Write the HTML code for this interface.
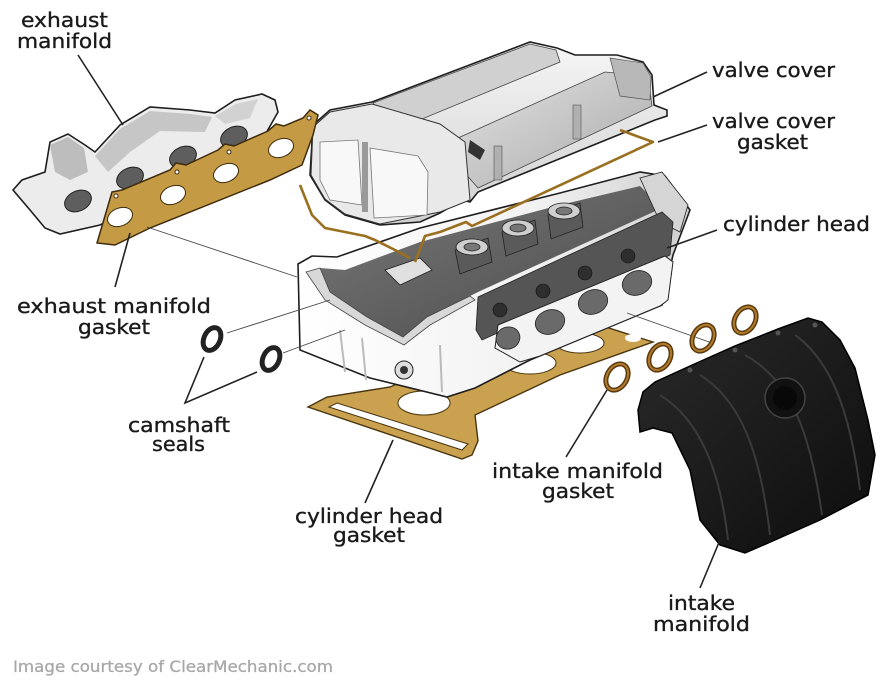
<!DOCTYPE html>
<html><head><meta charset="utf-8"><style>
html,body{margin:0;padding:0;background:#fff;}
svg{display:block;}
text{font-family:"DejaVu Sans","Liberation Sans",sans-serif;font-size:20px;fill:#1a1a1a;stroke:#1a1a1a;stroke-width:0.35px;}
</style></head><body>
<svg width="880" height="681" viewBox="0 0 880 681" xmlns="http://www.w3.org/2000/svg">
<defs>
<linearGradient id="metal" x1="0" y1="0" x2="0" y2="1"><stop offset="0" stop-color="#f6f6f6"/><stop offset="1" stop-color="#cfcfcf"/></linearGradient>
<linearGradient id="metal2" x1="0" y1="0" x2="1" y2="1"><stop offset="0" stop-color="#e2e2e2"/><stop offset="1" stop-color="#a9a9a9"/></linearGradient>
<linearGradient id="front" x1="0" y1="0" x2="1" y2="0"><stop offset="0" stop-color="#ffffff"/><stop offset="0.6" stop-color="#f2f2f2"/><stop offset="1" stop-color="#cfcfcf"/></linearGradient>
<linearGradient id="dark" x1="0" y1="0" x2="1" y2="1"><stop offset="0" stop-color="#7a7a7a"/><stop offset="1" stop-color="#4a4a4a"/></linearGradient>
<linearGradient id="blk" x1="0" y1="0" x2="1" y2="1"><stop offset="0" stop-color="#2a2a2a"/><stop offset="1" stop-color="#0d0d0d"/></linearGradient>
</defs>

<!-- exhaust manifold -->
<path d="M13,190 L22,180 L45,172 L50,142 L68,134 L85,145 L95,152 L120,125 L150,107 L190,110 L215,113 L235,100 L262,94 L275,100 L278,112 L265,135 L150,200 L100,225 L60,234 L45,228 L30,210 Z" fill="#ececec" stroke="#1e1e1e" stroke-width="1.6"/>
<path d="M50,145 L68,137 L84,148 L88,172 L70,180 L55,172 Z" fill="#bdbdbd"/>
<path d="M95,156 L120,129 L150,111 L190,114 L212,117 L205,132 L160,131 L130,152 L108,172 Z" fill="#c6c6c6"/>
<path d="M215,116 L236,104 L258,99 L250,118 L225,124 Z" fill="#d2d2d2"/>
<g fill="#5e5e5e" stroke="#222" stroke-width="1">
<ellipse cx="78" cy="201" rx="14" ry="10" transform="rotate(-25 78 201)"/>
<ellipse cx="130" cy="178" rx="14" ry="10" transform="rotate(-25 130 178)"/>
<ellipse cx="183" cy="157" rx="14" ry="10" transform="rotate(-25 183 157)"/>
<ellipse cx="234" cy="137" rx="14" ry="10" transform="rotate(-25 234 137)"/>
</g>

<!-- valve cover -->
<path d="M313,125 L330,110 L372,102 L530,42 L557,48 L575,55 L617,55 L643,62 L652,75 L654,105 L667,110 L667,116 L655,120 L478,192 L470,202 L462,200 L440,213 L420,222 L380,225 L345,215 L325,200 L310,175 Z" fill="url(#metal)" stroke="#1e1e1e" stroke-width="1.6"/>
<path d="M373,103 L530,44 L556,50 L560,62 L405,126 L382,118 Z" fill="#d0d0d0" stroke="#444" stroke-width="0.8"/>
<path d="M458,138 L605,72 L648,76 L652,106 L478,188 L464,172 Z" fill="url(#metal2)" stroke="#444" stroke-width="0.8"/>
<path d="M610,58 L643,63 L651,77 L650,100 L620,96 Z" fill="#b8b8b8" stroke="#555" stroke-width="0.7"/>
<path d="M313,127 L330,112 L372,104 L440,124 L465,142 L470,200 L440,212 L380,224 L345,214 L325,199 L311,175 Z" fill="#e9e9e9" stroke="#333" stroke-width="1"/>
<path d="M320,142 L358,140 L362,205 L330,200 L320,180 Z" fill="#f8f8f8" stroke="#777" stroke-width="0.8"/>
<path d="M370,148 L418,156 L428,172 L427,215 L374,218 Z" fill="#f8f8f8" stroke="#777" stroke-width="0.8"/>
<rect x="362" y="142" width="6" height="70" fill="#9a9a9a"/>
<path d="M470,140 L485,150 L480,160 L468,152 Z" fill="#333"/>
<rect x="494" y="146" width="8" height="34" fill="#b0b0b0" stroke="#555" stroke-width="0.6"/>
<rect x="573" y="105" width="8" height="34" fill="#b0b0b0" stroke="#555" stroke-width="0.6"/>

<!-- head gasket -->
<path d="M308,407 L327,397 L390,387 L440,365 L593,323 L653,342 L560,375 L475,415 L478,441 L472,455 L462,459 Z" fill="#c9a14f" stroke="#4a3510" stroke-width="1.4"/>
<path d="M329,407 L337,403 L468,444 L462,450 Z" fill="#fff" stroke="#4a3510" stroke-width="1"/>
<ellipse cx="424" cy="403" rx="26" ry="12" fill="#fff" stroke="#4a3510" stroke-width="1"/>
<ellipse cx="530" cy="363" rx="26" ry="11" fill="#fff" stroke="#4a3510" stroke-width="1"/>
<ellipse cx="580" cy="343" rx="24" ry="10" fill="#fff" stroke="#4a3510" stroke-width="1"/>
<ellipse cx="633" cy="338" rx="8" ry="4" fill="#fff"/>

<!-- cylinder head -->
<path d="M298,264 L312,256 L337,257 L420,228 L560,193 L640,172 L665,176 L690,210 L673,255 L662,305 L530,360 L475,388 L447,397 L370,378 L300,350 Z" fill="url(#front)" stroke="#1e1e1e" stroke-width="1.6"/>
<path d="M340,330 L345,372 M362,338 L366,380 M440,345 L442,392" stroke="#bbb" stroke-width="2" fill="none"/>
<path d="M306,272 L320,268 L345,270 L420,242 L560,205 L640,186 L662,208 L478,292 L470,296 L427,317 L403,337 L367,317 L330,292 Z" fill="url(#dark)"/>
<path d="M306,272 L320,268 L330,292 L367,317 L403,337 L427,317 L470,296 L475,300 L430,325 L404,345 L365,325 L325,300 Z" fill="#d8d8d8" stroke="#444" stroke-width="0.8"/>
<!-- cam towers -->
<g stroke="#222" stroke-width="0.8">
<path d="M455,250 L488,238 L492,262 L460,274 Z" fill="#5a5a5a"/>
<ellipse cx="472" cy="247" rx="16" ry="8" fill="#cfcfcf"/>
<ellipse cx="472" cy="247" rx="8" ry="4" fill="#777"/>
<path d="M502,232 L535,220 L538,244 L506,256 Z" fill="#5a5a5a"/>
<ellipse cx="518" cy="228" rx="16" ry="8" fill="#cfcfcf"/>
<ellipse cx="518" cy="228" rx="8" ry="4" fill="#777"/>
<path d="M548,215 L580,203 L583,227 L551,239 Z" fill="#5a5a5a"/>
<ellipse cx="564" cy="211" rx="16" ry="8" fill="#cfcfcf"/>
<ellipse cx="564" cy="211" rx="8" ry="4" fill="#777"/>
<path d="M385,270 L420,258 L432,270 L400,285 Z" fill="#e0e0e0"/>
<path d="M640,178 L662,172 L688,205 L680,232 L660,222 Z" fill="#d5d5d5"/>
</g>
<!-- side dark band -->
<path d="M478,297 L662,212 L673,222 L670,255 L482,340 L476,330 Z" fill="#555" stroke="#222" stroke-width="0.8"/>
<g fill="#2e2e2e" stroke="#111" stroke-width="0.6">
<circle cx="500" cy="310" r="7"/><circle cx="543" cy="291" r="7"/><circle cx="585" cy="273" r="7"/><circle cx="628" cy="256" r="7"/>
</g>
<!-- intake flange -->
<path d="M498,325 L665,256 L673,262 L668,300 L660,306 L540,356 L520,362 L495,348 Z" fill="#f3f3f3" stroke="#222" stroke-width="1"/>
<g fill="#6a6a6a" stroke="#222" stroke-width="0.8">
<ellipse cx="550" cy="322" rx="15" ry="12" transform="rotate(-20 550 322)"/>
<ellipse cx="593" cy="302" rx="15" ry="12" transform="rotate(-20 593 302)"/>
<ellipse cx="637" cy="283" rx="15" ry="12" transform="rotate(-20 637 283)"/>
<ellipse cx="508" cy="338" rx="12" ry="11" transform="rotate(-20 508 338)"/>
</g>
<circle cx="404" cy="370" r="9" fill="#ddd" stroke="#222" stroke-width="1"/>
<circle cx="404" cy="370" r="4" fill="#333"/>

<!-- valve cover gasket -->
<g fill="none" stroke="#9a7020" stroke-width="2.6" stroke-linejoin="round">
<path d="M300,185 L312,215 L325,228 L365,236 L375,240 L395,250 L410,258"/>
<path d="M620,130 L653,142 L472,226 L466,222 L440,232 L425,236 L415,262"/>
</g>

<!-- exhaust gasket -->
<path d="M97,243 L112,192 L122,190 L170,170 L176,163 L186,165 L218,150 L225,144 L234,146 L268,131 L276,124 L284,126 L303,118 L310,110 L318,115 L313,135 L302,165 L270,180 L150,228 L115,245 Z" fill="#c49a45" stroke="#3e2c0c" stroke-width="1.5"/>
<g fill="#fff" stroke="#3e2c0c" stroke-width="1">
<ellipse cx="120" cy="217" rx="13" ry="9" transform="rotate(-22 120 217)"/>
<ellipse cx="173" cy="195" rx="13" ry="9" transform="rotate(-22 173 195)"/>
<ellipse cx="226" cy="173" rx="13" ry="9" transform="rotate(-22 226 173)"/>
<ellipse cx="281" cy="148" rx="13" ry="9" transform="rotate(-22 281 148)"/>
<circle cx="116" cy="196" r="2"/><circle cx="177" cy="172" r="2"/><circle cx="229" cy="152" r="2"/><circle cx="309" cy="118" r="2"/>
</g>

<!-- thin connector lines -->
<g stroke="#444" stroke-width="0.9" fill="none">
<line x1="147" y1="227" x2="297" y2="277"/>
<line x1="227" y1="333" x2="330" y2="300"/>
<line x1="283" y1="353" x2="345" y2="330"/>
<line x1="627" y1="313" x2="712" y2="343"/>
</g>

<!-- camshaft seals -->
<g fill="none" stroke="#222" stroke-width="5">
<ellipse cx="212" cy="339" rx="8" ry="12" transform="rotate(25 212 339)"/>
<ellipse cx="271" cy="359" rx="8" ry="12" transform="rotate(25 271 359)"/>
</g>

<!-- intake gasket rings -->
<g fill="none">
<g stroke="#5a3a10" stroke-width="5">
<ellipse cx="617" cy="377" rx="10" ry="14" transform="rotate(30 617 377)"/>
<ellipse cx="660" cy="357" rx="10" ry="14" transform="rotate(30 660 357)"/>
<ellipse cx="703" cy="338" rx="10" ry="14" transform="rotate(30 703 338)"/>
<ellipse cx="745" cy="320" rx="10" ry="14" transform="rotate(30 745 320)"/>
</g>
<g stroke="#b07a2a" stroke-width="2">
<ellipse cx="617" cy="377" rx="10" ry="14" transform="rotate(30 617 377)"/>
<ellipse cx="660" cy="357" rx="10" ry="14" transform="rotate(30 660 357)"/>
<ellipse cx="703" cy="338" rx="10" ry="14" transform="rotate(30 703 338)"/>
<ellipse cx="745" cy="320" rx="10" ry="14" transform="rotate(30 745 320)"/>
</g>
</g>

<!-- intake manifold -->
<path d="M643,392 L655,382 L690,366 L735,346 L778,329 L808,318 L822,322 L840,340 L855,368 L868,420 L875,455 L868,495 L820,520 L775,540 L745,553 L720,545 L700,520 L690,470 L672,433 L653,428 L640,432 L638,410 Z" fill="url(#blk)" stroke="#000" stroke-width="1.5"/>
<g fill="none" stroke="#3a3a3a" stroke-width="2">
<path d="M660,395 C700,420 720,470 728,540"/>
<path d="M700,375 C740,400 760,450 770,535"/>
<path d="M745,355 C790,380 810,430 822,515"/>
<path d="M795,335 C830,360 850,410 860,490"/>
</g>
<circle cx="785" cy="398" r="20" fill="#111" stroke="#444" stroke-width="1.5"/>
<circle cx="785" cy="398" r="12" fill="#080808"/>
<g fill="#555"><circle cx="690" cy="370" r="2.5"/><circle cx="735" cy="350" r="2.5"/><circle cx="778" cy="333" r="2.5"/><circle cx="815" cy="325" r="2.5"/></g>

<!-- leader lines -->
<g stroke="#222" stroke-width="1.6" fill="none">
<line x1="78" y1="55" x2="123" y2="125"/>
<line x1="115" y1="287" x2="130" y2="233"/>
<polyline points="204,357 185,403 257,372"/>
<line x1="653" y1="97" x2="707" y2="72"/>
<line x1="658" y1="142" x2="707" y2="125"/>
<line x1="667" y1="248" x2="717" y2="230"/>
<line x1="393" y1="440" x2="365" y2="503"/>
<line x1="607" y1="390" x2="566" y2="457"/>
<line x1="720" y1="540" x2="700" y2="588"/>
</g>

<!-- labels -->
<text x="21" y="27" textLength="87" lengthAdjust="spacingAndGlyphs">exhaust</text>
<text x="17" y="48" textLength="95" lengthAdjust="spacingAndGlyphs">manifold</text>
<text x="712" y="77" textLength="123" lengthAdjust="spacingAndGlyphs">valve cover</text>
<text x="712" y="128" textLength="123" lengthAdjust="spacingAndGlyphs">valve cover</text>
<text x="737" y="149" textLength="71" lengthAdjust="spacingAndGlyphs">gasket</text>
<text x="723" y="231" textLength="147" lengthAdjust="spacingAndGlyphs">cylinder head</text>
<text x="17" y="313" textLength="194" lengthAdjust="spacingAndGlyphs">exhaust manifold</text>
<text x="78" y="334" textLength="72" lengthAdjust="spacingAndGlyphs">gasket</text>
<text x="128" y="432" textLength="102" lengthAdjust="spacingAndGlyphs">camshaft</text>
<text x="152" y="451" textLength="53" lengthAdjust="spacingAndGlyphs">seals</text>
<text x="295" y="523" textLength="148" lengthAdjust="spacingAndGlyphs">cylinder head</text>
<text x="333" y="542" textLength="72" lengthAdjust="spacingAndGlyphs">gasket</text>
<text x="492" y="478" textLength="171" lengthAdjust="spacingAndGlyphs">intake manifold</text>
<text x="542" y="498" textLength="72" lengthAdjust="spacingAndGlyphs">gasket</text>
<text x="668" y="610" textLength="67" lengthAdjust="spacingAndGlyphs">intake</text>
<text x="653" y="631" textLength="97" lengthAdjust="spacingAndGlyphs">manifold</text>
<text x="13" y="672" textLength="320" lengthAdjust="spacingAndGlyphs" style="font-size:16px;fill:#a8a8a8;stroke:#a8a8a8;stroke-width:0.3px">Image courtesy of ClearMechanic.com</text>
</svg>
</body></html>
